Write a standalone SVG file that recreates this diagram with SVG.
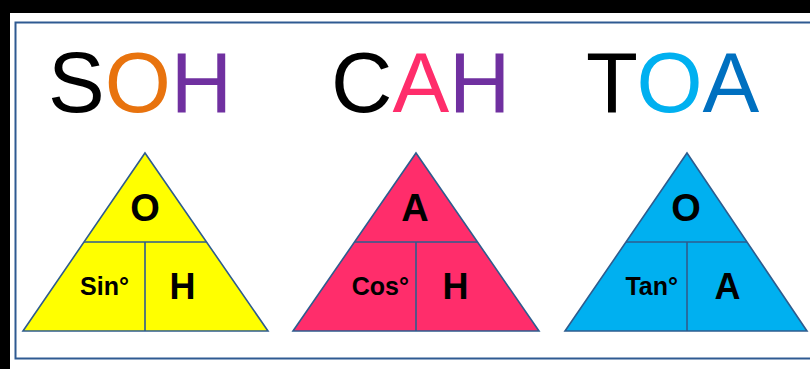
<svg xmlns="http://www.w3.org/2000/svg" width="810" height="369" viewBox="0 0 810 369">
  <style>
    .head { font-family: "Liberation Sans", Arial, sans-serif; font-size: 85px; }
    .tri { stroke: #2E5C8E; stroke-width: 1.6; stroke-linejoin: miter; }
    .div { stroke: #2E5C8E; stroke-width: 1.6; fill: none; }
    .big { font-family: "Liberation Sans", Arial, sans-serif; font-weight: bold; font-size: 38px; text-anchor: middle; fill: #000; }
    .mid { font-family: "Liberation Sans", Arial, sans-serif; font-weight: bold; font-size: 36px; text-anchor: middle; fill: #000; }
    .small { font-family: "Liberation Sans", Arial, sans-serif; font-weight: bold; font-size: 25px; text-anchor: end; fill: #000; }
  </style>
  <rect x="0" y="0" width="810" height="369" fill="#000"/>
  <rect x="10" y="13" width="800" height="356" fill="#fff"/>
  <rect x="15.5" y="22.5" width="820" height="336" fill="none" stroke="#2F5A92" stroke-width="2"/>

  <g id="heading-soh">
    <text class="head" x="48" y="112"><tspan fill="#000">S</tspan><tspan fill="#E8730E">O</tspan><tspan fill="#7030A0">H</tspan></text>
  </g>
  <g id="heading-cah">
    <text class="head" x="331" y="112"><tspan fill="#000">C</tspan><tspan fill="#FF2D6B">A</tspan><tspan fill="#7030A0">H</tspan></text>
  </g>
  <g id="heading-toa">
    <text class="head" x="586" y="112"><tspan fill="#000">T</tspan><tspan fill="#00B0F0">O</tspan><tspan fill="#0070C0">A</tspan></text>
  </g>

  <g id="triangle-sin">
    <polygon class="tri" points="145,153 268,331 23,331" fill="#FFFF00"/>
    <path class="div" d="M84,242 H206 M145,242 V331"/>
    <text class="big" x="145" y="221">O</text>
    <text class="small" x="129" y="295">Sin°</text>
    <text class="mid" x="182.5" y="299">H</text>
  </g>

  <g id="triangle-cos">
    <polygon class="tri" points="416,153 539,331 293,331" fill="#FF2D6B"/>
    <path class="div" d="M355,242 H477 M416,242 V331"/>
    <text class="big" x="415" y="221">A</text>
    <text class="small" x="409" y="295">Cos°</text>
    <text class="mid" x="455.5" y="299">H</text>
  </g>

  <g id="triangle-tan">
    <polygon class="tri" points="687,153 807,331 565,331" fill="#00B0F0"/>
    <path class="div" d="M626,242 H747 M687,242 V331"/>
    <text class="big" x="686" y="221">O</text>
    <text class="small" x="678" y="295">Tan°</text>
    <text class="mid" x="727.5" y="299">A</text>
  </g>
</svg>
